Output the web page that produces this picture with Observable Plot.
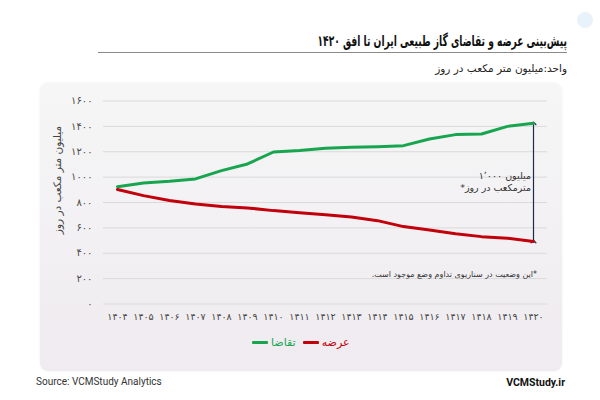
<!DOCTYPE html>
<html>
<head>
<meta charset="utf-8">
<script src="https://cdn.jsdelivr.net/npm/d3@7"></script>
<script src="https://cdn.jsdelivr.net/npm/@observablehq/plot@0.6"></script>
<style>
  html, body { margin: 0; padding: 0; background: #fff; }
  #page { position: relative; width: 600px; height: 400px; overflow: hidden; font-family: "DejaVu Sans", sans-serif; }
  #dot { position: absolute; left: 577px; top: 12px; width: 16px; height: 16px; border-radius: 50%; background: #e8f2fb; }
  #title { position: absolute; right: 33px; top: 32px; font-size: 15px; font-weight: bold; color: #111; direction: rtl; white-space: nowrap; transform: scaleX(0.61); transform-origin: right center; }
  #rule { position: absolute; left: 98px; width: 469px; top: 52px; height: 0; border-top: 1px solid #8a8a8a; }
  #subtitle { position: absolute; right: 33px; top: 62px; font-size: 10.5px; color: #222; direction: rtl; white-space: nowrap; }
  #panel { position: absolute; left: 40px; top: 83px; width: 522px; height: 288px; border-radius: 8px;
           background: linear-gradient(#f6f6f6, #efebf0); box-shadow: 0 0 2px rgba(0,0,0,0.08); }
  #chart { position: absolute; left: 0; top: 83px; }
  .ov { position: absolute; white-space: nowrap; color: #333; }
  #legend { position: absolute; top: 336px; left: 252px; display: flex; align-items: center; direction: ltr; font-size: 11px; white-space: nowrap; }
  .sw { display: inline-block; width: 16px; height: 3px; border-radius: 1px; }
  .lab { margin-left: 3px; margin-right: 7px; }
  #source { position: absolute; left: 36px; top: 376px; font-family: Roboto, sans-serif; font-size: 10px; color: #333; }
  #site { position: absolute; right: 35px; top: 376px; font-family: Roboto, sans-serif; font-size: 10.5px; font-weight: bold; color: #111; }
</style>
</head>
<body>
<div id="page">
  <div id="dot"></div>
  <div id="title">پیش‌بینی عرضه و تقاضای گاز طبیعی ایران تا افق ۱۴۲۰</div>
  <div id="rule"></div>
  <div id="subtitle">واحد:میلیون متر مکعب در روز</div>
  <div id="panel"></div>
  <div id="chart"></div>
  <div id="legend"></div>
  <div id="source">Source: VCMStudy Analytics</div>
  <div id="site">VCMStudy.ir</div>
</div>
<script>
const years = ["1404","1405","1406","1407","1408","1409","1410","1411","1412","1413","1414","1415","1416","1417","1418","1419","1420"];
const yearLabels = ["۱۴۰۴","۱۴۰۵","۱۴۰۶","۱۴۰۷","۱۴۰۸","۱۴۰۹","۱۴۱۰","۱۴۱۱","۱۴۱۲","۱۴۱۳","۱۴۱۴","۱۴۱۵","۱۴۱۶","۱۴۱۷","۱۴۱۸","۱۴۱۹","۱۴۲۰"];
const demand = [925, 954, 967, 986, 1051, 1104, 1198, 1209, 1227, 1235, 1240, 1248, 1301, 1335, 1340, 1400, 1424];
const supply = [902, 854, 815, 789, 768, 757, 736, 720, 704, 685, 657, 610, 584, 553, 531, 518, 492];
const yTicks = [0, 200, 400, 600, 800, 1000, 1200, 1400, 1600];
const yTickLabels = ["۰","۲۰۰","۴۰۰","۶۰۰","۸۰۰","۱۰۰۰","۱۲۰۰","۱۴۰۰","۱۶۰۰"];
const seriesNames = ["تقاضا", "عرضه"];
const seriesColors = ["#17a64f", "#c2000b"];
const yLabel = "میلیون متر مکعب در روز";
// each annotation line: pieces shown left-to-right
const annotationLines = [["۱٬۰۰۰", " ", "میلیون"], ["*", "مترمکعب در روز"]];
const footnote = "*این وضعیت در سناریوی تداوم وضع موجود است.";

const data = years.map((y, i) => ({year: y, demand: demand[i], supply: supply[i]}));
const last = data[data.length - 1];

const chart = Plot.plot({
  width: 600,
  height: 250,
  marginTop: 17.5,
  marginBottom: 29.5,
  marginLeft: 117,
  marginRight: 67,
  style: {background: "transparent", fontFamily: "DejaVu Sans, sans-serif", fontSize: "10px", overflow: "visible"},
  x: {type: "point", domain: years, padding: 0},
  y: {domain: [0, 1600]},
  marks: [
    Plot.ruleY(yTicks, {stroke: "#dadada", strokeWidth: 1, insetLeft: -14, insetRight: -14}),
    Plot.axisY({ticks: yTicks, tickFormat: d => yTickLabels[yTicks.indexOf(d)], tickSize: 0, tickPadding: 25, color: "#4a4a4a", label: null, fontSize: 10}),
    Plot.axisX({tickFormat: d => yearLabels[years.indexOf(d)], tickSize: 0, tickPadding: 9, color: "#444", label: null, fontSize: 9.5}),
    Plot.link([last], {x1: "year", x2: "year", y1: "supply", y2: "demand", stroke: "#1e2a4a", strokeWidth: 1.2, markerStart: "arrow", markerEnd: "arrow"}),
    Plot.lineY(data, {x: "year", y: "demand", stroke: seriesColors[0], strokeWidth: 3, strokeLinecap: "round"}),
    Plot.lineY(data, {x: "year", y: "supply", stroke: seriesColors[1], strokeWidth: 3, strokeLinecap: "round"})
  ]
});
document.getElementById("chart").appendChild(chart);

// Overlay texts (HTML for correct right-to-left rendering), positioned with the chart's scales
const page = document.getElementById("page");
const sx = chart.scale("x"), sy = chart.scale("y");
const top0 = 83;
const xLast = sx.apply(last.year);
const xFirst = sx.apply(years[0]);
const yTop = sy.apply(1600), yBottom = sy.apply(0);

const ylab = document.createElement("div");
ylab.className = "ov";
ylab.textContent = yLabel;
Object.assign(ylab.style, {left: (xFirst - 60) + "px", top: (top0 + (yTop + yBottom) / 2 - 22) + "px",
  transform: "translate(-50%,-50%) rotate(-90deg)", fontSize: "10.5px", color: "#444", direction: "rtl"});
page.appendChild(ylab);

const ann = document.createElement("div");
ann.className = "ov";
annotationLines.forEach(parts => {
  const l = document.createElement("div");
  l.style.display = "flex";
  l.style.justifyContent = "flex-end";
  l.style.direction = "ltr";
  parts.forEach(p => {
    const s = document.createElement("span");
    s.style.whiteSpace = "pre";
    s.textContent = p;
    l.appendChild(s);
  });
  ann.appendChild(l);
});
Object.assign(ann.style, {right: (600 - xLast + 2) + "px", top: (top0 + sy.apply((last.demand + last.supply) / 2)) + "px",
  transform: "translateY(-50%)", fontSize: "9.5px", lineHeight: "12px"});
page.appendChild(ann);

const fn = document.createElement("div");
fn.className = "ov";
fn.textContent = footnote;
Object.assign(fn.style, {right: (600 - xLast - 4) + "px", top: (top0 + yBottom - 29.5) + "px",
  transform: "translateY(-50%)", fontSize: "8px", direction: "rtl"});
page.appendChild(fn);

const legend = document.getElementById("legend");
seriesNames.forEach((name, i) => {
  const sw = document.createElement("span");
  sw.className = "sw";
  sw.style.background = seriesColors[i];
  const lab = document.createElement("span");
  lab.className = "lab";
  lab.style.color = seriesColors[i];
  lab.textContent = name;
  legend.appendChild(sw);
  legend.appendChild(lab);
});
</script>
</body>
</html>
